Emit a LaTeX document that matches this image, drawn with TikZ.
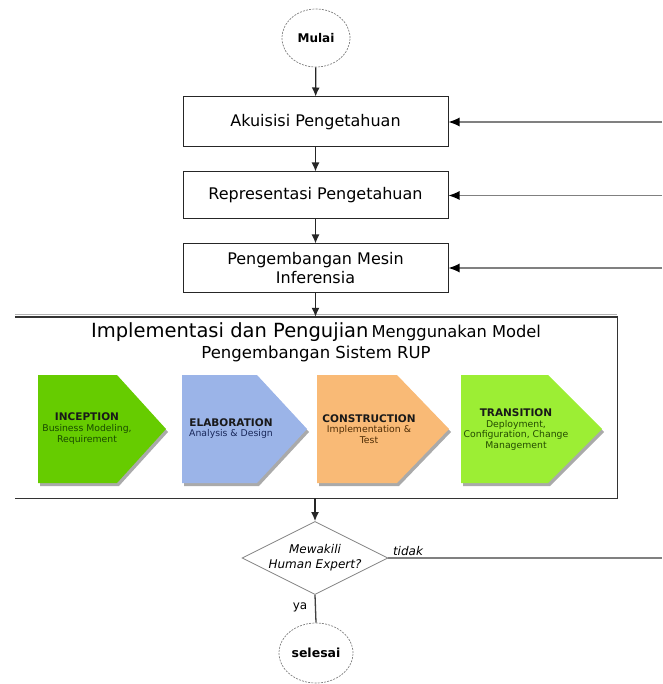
\documentclass[tikz,border=0pt]{standalone}
\usepackage{fontspec}
\setmainfont{DejaVu Sans}
\usetikzlibrary{shapes.geometric,arrows.meta}
\definecolor{incfill}{RGB}{102,204,0}
\definecolor{incdark}{RGB}{25,75,0}
\definecolor{elafill}{RGB}{155,180,232}
\definecolor{eladark}{RGB}{25,40,90}
\definecolor{consfill}{RGB}{249,186,118}
\definecolor{consdark}{RGB}{80,45,5}
\definecolor{tranfill}{RGB}{156,238,52}
\definecolor{trandark}{RGB}{35,75,0}
\definecolor{shadowc}{RGB}{170,170,170}
\newcommand{\rupchev}[4]{%
  \fill[shadowc] ({#1+2},378) -- ({#2+2},378) -- ({#3+2},432) -- ({#2+2},486) -- ({#1+2},486) -- cycle;
  \fill[#4] (#1,375) -- (#2,375) -- (#3,429) -- (#2,483) -- (#1,483) -- cycle;
}
\tikzset{
  term/.style={ellipse, draw=gray, dash pattern=on 2pt off 1.2pt, line width=0.7pt, inner sep=0pt,
    font=\fontsize{12}{14}\selectfont\bfseries},
  procbox/.style={rectangle, draw=black!85, line width=1pt, minimum width=265pt, inner sep=0pt,
    align=center, font=\fontsize{16}{19}\selectfont},
  decision/.style={diamond, draw=gray, line width=0.8pt, minimum width=138pt, minimum height=70pt,
    aspect=2, inner sep=0pt, align=center, font=\fontsize{12}{15}\selectfont\itshape},
  flow/.style={draw=black!85, line width=1.3pt, -{Latex[length=9pt,width=8pt]}},
  feed/.style={draw=gray, line width=1.2pt, -{Latex[length=11pt,width=9pt,color=black]}},
  plainline/.style={draw=black!75, line width=1.3pt},
  noline/.style={draw=gray, line width=1.3pt},
  phase/.style={align=center, inner sep=0pt, font=\fontsize{9.3}{10.8}\selectfont},
  phasetitle/.style={},
  lbl/.style={inner sep=0pt, font=\fontsize{12}{14}\selectfont},
}
\newcommand{\phasehead}[1]{{\fontsize{10.5}{10.8}\selectfont\bfseries\color{black!90}#1}}
\begin{document}
\begin{tikzpicture}[x=1pt,y=-1pt]
\useasboundingbox (0,0) rectangle (662,684);

% start / process nodes
\node[term, minimum width=68pt, minimum height=58pt] (mulai) at (316,38) {Mulai};
\node[procbox, minimum height=50pt] (akuisisi) at (315.5,122) {Akuisisi Pengetahuan};
\node[procbox, minimum height=47pt] (repr) at (315.5,195.5) {Representasi Pengetahuan};
\node[procbox, minimum height=48pt] (mesin) at (315.5,268) {Pengembangan Mesin\\Inferensia};

% implementation frame
\node[rectangle, draw=none, minimum width=602pt, minimum height=181pt, inner sep=0pt] (impl) at (316,407.5) {};
\draw[gray!60, line width=1pt] ([yshift=2pt]impl.north west) -- ([yshift=2pt]impl.north east);
\draw[black!80, line width=1.4pt] (impl.north west) -- (impl.north east) -- (impl.south east) -- (impl.south west);
\node[inner sep=0pt] (title1) at (316,332)
  {{\fontsize{19.5}{22}\selectfont Implementasi dan Pengujian} {\fontsize{16.3}{18}\selectfont Menggunakan Model}};
\node[inner sep=0pt, font=\fontsize{16.5}{18}\selectfont] (title2) at (316,354) {Pengembangan Sistem RUP};

% RUP phases
\rupchev{38}{117}{166}{incfill}
\rupchev{182}{257}{307}{elafill}
\rupchev{317}{397}{449}{consfill}
\rupchev{461}{548}{602}{tranfill}
\node[phase, text=incdark] (inception) at (87,428.5)
  {\phasehead{INCEPTION}\\Business Modeling,\\Requirement};
\node[phase, text=eladark] (elaboration) at (231,428.5)
  {\phasehead{ELABORATION}\\Analysis \& Design};
\node[phase, text=consdark] (construction) at (369,429)
  {\phasehead{CONSTRUCTION}\\Implementation \&\\Test};
\node[phase, text=trandark] (transition) at (516,429.5)
  {\phasehead{TRANSITION}\\Deployment,\\Configuration, Change\\Management};

% decision and end
\node[decision] (dec) at (315,558) {Mewakili\\Human Expert?};
\node[term, minimum width=74pt, minimum height=60pt, font=\fontsize{12.5}{14}\selectfont\bfseries] (selesai) at (316,653) {selesai};
\node[lbl, font=\fontsize{12}{14}\selectfont\itshape] (tidak) at (408,551) {tidak};
\node[lbl] (ya) at (300,607) {ya};

% free ends on the right
\coordinate (r1) at (662,122);
\coordinate (r2) at (662,195.5);
\coordinate (r3) at (662,268);
\coordinate (r4) at (662,558);

% connectors
\draw[flow] (mulai) -- (akuisisi);
\draw[flow] (akuisisi) -- (repr);
\draw[flow] (repr) -- (mesin);
\draw[flow] (mesin) -- (mesin |- impl.north);
\draw[flow] (impl.south -| dec) -- (dec.north);
\draw[plainline] (dec.south) -- (selesai.north);
\draw[noline] (dec.east) -- (r4);
\draw[feed] (r1) -- (akuisisi.east);
\draw[feed] (r2) -- (repr.east);
\draw[feed] (r3) -- (mesin.east);
\end{tikzpicture}
\end{document}
